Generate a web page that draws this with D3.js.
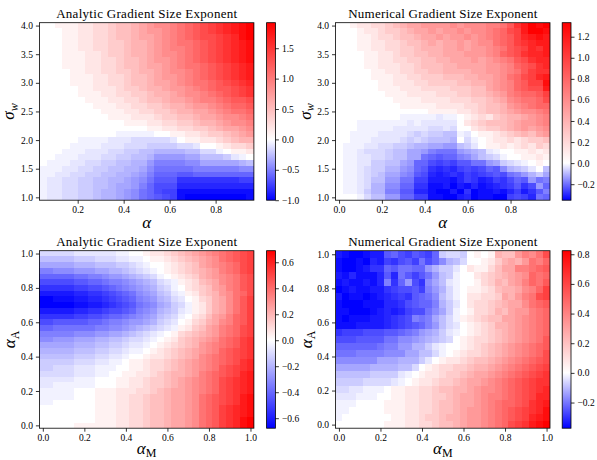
<!DOCTYPE html>
<html>
<head>
<meta charset="utf-8">
<script src="https://cdn.jsdelivr.net/npm/d3@7"></script>
<style>
  body { margin: 0; background: #fff; }
  svg { display: block; }
  text { font-family: "Liberation Serif", "DejaVu Serif", serif; fill: #000; }
</style>
</head>
<body>
<div id="fig"></div>
<script>
// grid coordinates of the cells
const alphaAnalytic = [0.050, 0.083, 0.117, 0.150, 0.183, 0.217, 0.250, 0.283, 0.317, 0.350, 0.383, 0.417, 0.450, 0.483,
                       0.517, 0.550, 0.583, 0.617, 0.650, 0.683, 0.717, 0.750, 0.783, 0.817, 0.850, 0.883, 0.917, 0.950];
const alphaNumerical = [0.000, 0.033, 0.067, 0.100, 0.133, 0.167, 0.200, 0.233, 0.267, 0.300, 0.333, 0.367, 0.400, 0.433, 0.467,
                        0.500, 0.533, 0.567, 0.600, 0.633, 0.667, 0.700, 0.733, 0.767, 0.800, 0.833, 0.867, 0.900, 0.933, 0.967];
const sigmaW = [1.0, 1.1, 1.2, 1.3, 1.4, 1.5, 1.6, 1.7, 1.8, 1.9, 2.0, 2.1, 2.2, 2.3, 2.4, 2.5,
                2.6, 2.7, 2.8, 2.9, 3.0, 3.1, 3.2, 3.3, 3.4, 3.5, 3.6, 3.7, 3.8, 3.9, 4.0];
const alphaMix = [0.000, 0.033, 0.067, 0.100, 0.133, 0.167, 0.200, 0.233, 0.267, 0.300, 0.333, 0.367, 0.400, 0.433, 0.467, 0.500,
                  0.533, 0.567, 0.600, 0.633, 0.667, 0.700, 0.733, 0.767, 0.800, 0.833, 0.867, 0.900, 0.933, 0.967, 1.000];
const alphaACoarse = [0.000, 0.042, 0.083, 0.125, 0.167, 0.208, 0.250, 0.292, 0.333, 0.375, 0.417, 0.458, 0.500,
                      0.542, 0.583, 0.625, 0.667, 0.708, 0.750, 0.792, 0.833, 0.875, 0.917, 0.958, 1.000];

// cell levels, one char per cell, top row first:
// '0' = 0, 'a'..'t' = +5%..+100% of vmax, 'A'..'T' = -5%..-100% of |vmin|
const analyticSigmaRows = [
  "00aaabbccdeefghiijklmnopqrst",
  "000aabbccdeefghhijklmnopqrst",
  "000aabbccdeefgghijklmnnopqst",
  "000aabbccddeffghijkklmnopqrs",
  "000aabbccddeffghijjklmnopqrs",
  "000aaabbcddeffghiijklmnopqrs",
  "000aaabbccdeefghhijklmnopqrs",
  "000aaabbccdeefgghijkklmnopqr",
  "0000aabbccddeffghiijklmnopqr",
  "0000aaabbccdeefghhijklmnopqr",
  "0000aaabbccdeefgghijkklmnopq",
  "00000aabbbcddeffghhijklmmnop",
  "00000aaabbccddeffghiijklmnop",
  "000000aaabbccdeefgghijjklmmn",
  "0000000aaabbccddeffghhijkllm",
  "00000000aaabbccddeffgghijkkl",
  "000000000aaabbbcddeefgghiijk",
  "00000000000aaabbccddeffghiij",
  "00000000000000aabbccddefgghi",
  "0000000000AAAAA00aabbcddefgh",
  "00000AAAABBBCCCCCB0aabbcdeff",
  "0000AAAABBBCCCDDDDCCB00abccd",
  "000AAABBBCCDDEEFFFFEECCA0aab",
  "00AAABBBCCDDEEFHHHHGGEEEDBA0",
  "0AAABBCCDDEEFFHJJJJIIGGGGGFE",
  "AAABBCCDDEEFFGIKKKKKJJJJJJII",
  "AABBCCDDEEFFGHJLLLMMLLLLLLLL",
  "ABBCCDDEEFFGHIKMMMPPPPPPPPOO",
  "ABBCCDDEEFGGHJLNNNQQQQQQQQQQ",
  "ABBCCDDEFFGHIKLNOOSSSSSSSSSS",
  "ABBCCDDEFFGHIKLMNOSTTTTTTTTS"
];
const numericalSigmaRows = [
  "00abbccdefgghhhhihiiijjkmprtst",
  "000abbcddefgghghhihiijklnortts",
  "000aabccdeefgghghhihijklmoqrsr",
  "000aabbccdeefgfgghghiiklmopqrr",
  "000aabbccddefffgghghhijkmnoqpr",
  "0000aabbcddeeffggghhhijlmnpqqr",
  "0000aabbccddeeffggghghijkmnpqq",
  "0000aabbbccdeeeffgggghhijlmnpq",
  "00000aabbccddeeffffgghhijkmopp",
  "00000aaabbccdddeeeffgghiklnoqr",
  "000000aabbbccddddeeffghijlmoos",
  "000000aaabbbccccdddeeghijlmnnr",
  "0000000aaabbbbcccddeefghjkllmo",
  "00000000aaaabbbbcccddefgijkkln",
  "000000000aaaaabbbbccdeefhijkll",
  "0000000000000aaaabbcdeefghiijk",
  "000000000AAAAABAA0abcbdeffghij",
  "000AAAAAAABABBBBB0bcdeeefghhij",
  "000AAAAABBBBBCCBC00bcddefghghi",
  "00AAAABBBBCDCDDEEAB0aabcdefegh",
  "00AAABBBBCDCDEEEF0CA0abbcbcdde",
  "0AAABBCCDDEFFGGHHEDB0aababcbdc",
  "0AABCCCDEEGGHJKKKHGFEBA00aabab",
  "0AABBCCDEEGGKLMLLJIGEDCA00aaba",
  "0AABBDDEEGHLLNONOMMKKHGDCBA0a0",
  "0AABCDDFFHILMPQPQONONLMIFEDB0E",
  "0AABCDEGGIJMNQRQPQOPONMNKJHFDG",
  "0AABCEEHHKKOORRRSQOPRQOPNLMHKJ",
  "0AABCFFIILLPPSSRTRSQSRQPOMPNHL",
  "0AABDFFJJMMQQSTTRTPTSSRSQORPMJ",
  "000ACEEHHLLOOSSTTRQTSSTTONOQKL"
];
const analyticMixRows = [
  "CCCCCBBBBBBAA00abbcdefghijklmno",
  "EEEEEDDDCCCBBAA0aabcdefghiklmno",
  "GGGGGFFFEEEDDCBA00abcdeghijklno",
  "JJIIIHHHGGFFEDCBA0abcdefghjklno",
  "LLLLLKKJJIHHGFEDCA0abcdfghijkmn",
  "NNNNNMMLLKJJIHGFECBAabcefgijkmn",
  "PPPPPOONNMLKJIHGFDCA0bcdeghjkmn",
  "RRRRRQQPPONMLKIHGEDBAabdefhikln",
  "TTSSSRRQQPONMLJIHFECB0acdfgikmo",
  "TTTTTSSRRQPONMKJIGFDCAabdfgikmo",
  "RRRRRQQPPONNMLJIHFEDBAabdfgikmo",
  "PPPPPOONNMLLKJIHGEDCA0bceghjlmo",
  "NNMMMMMLLKJJIHHGFDCB0acdfgijlmo",
  "LLKKKKKKJJIIHGFEDCBAabdeghjklno",
  "JJJJJIIIHHGGFEDCBA0acdefghjklno",
  "IIHHHGGGFFEEDCCBA0abdefghiklmop",
  "GGGGGFFFEEDDCBBA0abcdefhijklmop",
  "FFFFFEEEDDCCBAA0abcdefghijlmnop",
  "EEEEEDDDCCBBA00abbcdefgijklmnop",
  "DDDDDCCCBBAA0aabccdefghijklmnpq",
  "DDCCCBBBAAA00aabccdefghijkmnopq",
  "CCCCCBBBAA00aabbcdeffghjklmnoqr",
  "BBBBBAAA000aabbcddefghijklnopqr",
  "BBAAAAAA000aabbcddefghijklnopqr",
  "AAAAA000aaabbbccdefgghijklnopqr",
  "AAAAA000aaabbccdeefgghiklmnoprs",
  "AA000000aaabbccdeefgghiklmnoprs",
  "00000000aaabbccdeefgghiklmopqrs",
  "00000000aaabbccdeefgghiklmopqrs",
  "00000000aaabbccdeefgghiklmopqst",
  "00000aaaaaabbccdeefgghiklmopqst"
];
const numericalMixRows = [
  "RSTTSRRMLNOMNOLDCCD0a0afeehjikn",
  "STTSTQROPNMOKNLIFEC00abdfgfhkjl",
  "STTSRPPLMKKLLHFDDB0baaceggjjklm",
  "RSQSSSQMQKMOMKHEDA00bcdefghilkl",
  "SRSSRSQJPLHNPIGEBA00acdfeghjlkm",
  "TSRSSRRPONNMOJHFCA0aabceffgijlo",
  "RTSSTSRQPOPMLKIECA0bbccdgfhjkno",
  "STTTSSSQQPNMLLJFDB0bccdefggiklm",
  "SSTTTSRQRQONNKIGDA0accdfeghhjkl",
  "STSSSRRQPONJKJGECAabcdeegghijkl",
  "SSSRRRRQPONMLJHECB0abcdffghijkl",
  "POOONNNMMLKJHGFDBA0abcdefghijkl",
  "NNNMMMMKKIIHGFEDC0abccdefghijkm",
  "LLLLLLKJJHHFFDBA00abcdefghijklm",
  "KKKJJJJIIIGGEECA0abccdefghijkln",
  "IIIIIIGGGFFFDB0abbcdeefghijklmn",
  "GGGGGFFFFEEC0abccddeffghijklmno",
  "EEEEEDDDDBA0abbcddefgghijklmnop",
  "DDDDCCCCBA0abbcddefgghijklmnopp",
  "CCBBAAA0aabbccdeeffghiijklmnopq",
  "BBBAAA00aabbccddefgghijjklmnoqq",
  "AAA0000aaabbccdeefgghijkllmnpqr",
  "AA00000aaabbccdeefghhijklmnopqs",
  "A0000000aabbcddeffghhijklmnoqrs",
  "0000000aaabbccdeefghhijklnoprst"
];

// colour limits and tick labels
const analyticSigmaRange = [-1.0, 1.92];
const numericalSigmaRange = [-0.352, 1.333];
const analyticMixRange = [-0.677, 0.689];
const numericalMixRange = [-0.373, 0.824];

const sigmaTicks = [1.0, 1.5, 2.0, 2.5, 3.0, 3.5, 4.0];
const alphaTicksAnalytic = [0.2, 0.4, 0.6, 0.8];
const alphaTicksNumerical = [0.0, 0.2, 0.4, 0.6, 0.8];
const unitTicks = [0.0, 0.2, 0.4, 0.6, 0.8, 1.0];
const cbTicksA = [-1.0, -0.5, 0.0, 0.5, 1.0, 1.5];
const cbTicksB = [-0.2, 0.0, 0.2, 0.4, 0.6, 0.8, 1.0, 1.2];
const cbTicksC = [-0.6, -0.4, -0.2, 0.0, 0.2, 0.4, 0.6];
const cbTicksD = [-0.2, 0.0, 0.2, 0.4, 0.6, 0.8];

const W = 597, H = 460;
const svg = d3.select('#fig').append('svg').attr('width', W).attr('height', H);
const defs = svg.append('defs');
const fmt = d3.format('.1f');

function level(c, vmin, vmax) {
  if (c === '0') return 0;
  if (c >= 'a') return (c.charCodeAt(0) - 96) * 0.05 * vmax;
  return (c.charCodeAt(0) - 64) * 0.05 * vmin;
}

function edges(c) {
  let n = c.length, e = [c[0] - (c[1] - c[0]) / 2];
  for (let i = 0; i < n - 1; i++) e.push((c[i] + c[i + 1]) / 2);
  e.push(c[n - 1] + (c[n - 1] - c[n - 2]) / 2);
  return e;
}

function styleAxis(sel) {
  sel.select('.domain').remove();
  sel.selectAll('.tick line').attr('stroke', '#000').attr('stroke-width', 0.8);
  sel.selectAll('.tick text').style('font-size', '9.5px').attr('fill', '#000');
}

function drawPanel(p, id) {
  let w = 214.5, h = 177.5;
  let g = svg.append('g').attr('transform', `translate(${p.left},${p.top})`);
  let xe = edges(p.x), ye = edges(p.y);
  let x = d3.scaleLinear().domain([xe[0], xe[xe.length - 1]]).range([0, w]);
  let y = d3.scaleLinear().domain([ye[0], ye[ye.length - 1]]).range([h, 0]);
  let color = d3.scaleLinear().domain([p.range[0], 0, p.range[1]]).range(['#0000ff', '#ffffff', '#ff0000']);

  let cells = [];
  p.rows.forEach((row, r) => {
    let yi = p.y.length - 1 - r;
    Array.from(row).forEach((c, xi) => {
      if (xi < p.x.length) cells.push({xi: xi, yi: yi, v: level(c, p.range[0], p.range[1])});
    });
  });

  g.append('g').selectAll('rect')
   .data(cells)
   .join('rect')
   .attr('x', d => x(xe[d.xi]))
   .attr('width', d => x(xe[d.xi + 1]) - x(xe[d.xi]))
   .attr('y', d => y(ye[d.yi + 1]))
   .attr('height', d => y(ye[d.yi]) - y(ye[d.yi + 1]))
   .attr('fill', d => color(d.v))
   .attr('shape-rendering', 'crispEdges');

  g.append('rect').attr('width', w).attr('height', h)
   .attr('fill', 'none').attr('stroke', '#000').attr('stroke-width', 0.8);

  g.append('g').attr('transform', `translate(0,${h})`)
   .call(d3.axisBottom(x).tickValues(p.xTicks).tickFormat(fmt).tickSize(3.5).tickPadding(3))
   .call(styleAxis);
  g.append('g')
   .call(d3.axisLeft(y).tickValues(p.yTicks).tickFormat(fmt).tickSize(3.5).tickPadding(3))
   .call(styleAxis);

  // title
  g.append('text').attr('x', w / 2).attr('y', -4.5)
   .attr('text-anchor', 'middle').style('font-size', '13px')
   .attr('textLength', p.titleLen).attr('lengthAdjust', 'spacing')
   .text(p.title);

  // x label
  let xl = g.append('text').attr('x', w / 2).attr('y', h + p.xly)
   .attr('text-anchor', 'middle').style('font-size', '17px');
  xl.append('tspan').style('font-style', 'italic').text('α');
  if (p.xSub) xl.append('tspan').attr('dy', 3).style('font-size', '12px').text(p.xSub);

  // y label
  let yl = g.append('text').attr('transform', `translate(${p.ylx},${h / 2}) rotate(-90)`)
   .attr('text-anchor', 'middle').style('font-size', '17px');
  yl.append('tspan').style('font-style', 'italic').text(p.yName);
  yl.append('tspan').attr('dy', 3.5).style('font-size', '12px')
    .style('font-style', p.ySubItalic ? 'italic' : 'normal').text(p.ySub);

  // colorbar
  let cb = svg.append('g').attr('transform', `translate(${p.cbLeft},${p.top})`);
  let cbw = 8.8;
  let grad = defs.append('linearGradient').attr('id', 'cb' + id)
   .attr('x1', 0).attr('y1', 0).attr('x2', 0).attr('y2', 1);
  grad.append('stop').attr('offset', 0).attr('stop-color', '#ff0000');
  grad.append('stop').attr('offset', p.range[1] / (p.range[1] - p.range[0])).attr('stop-color', '#ffffff');
  grad.append('stop').attr('offset', 1).attr('stop-color', '#0000ff');
  cb.append('rect').attr('width', cbw).attr('height', h).attr('fill', `url(#cb${id})`)
    .attr('stroke', '#000').attr('stroke-width', 0.8);
  let cbScale = d3.scaleLinear().domain(p.range).range([h, 0]);
  cb.append('g').attr('transform', `translate(${cbw},0)`)
    .call(d3.axisRight(cbScale).tickValues(p.cbTicks).tickFormat(fmt).tickSize(3.5).tickPadding(3))
    .call(styleAxis);
}

const panels = [
  {x: alphaAnalytic, y: sigmaW, rows: analyticSigmaRows, range: analyticSigmaRange,
   xTicks: alphaTicksAnalytic, yTicks: sigmaTicks, cbTicks: cbTicksA,
   title: 'Analytic Gradient Size Exponent', titleLen: 181,
   xSub: null, xly: 28, yName: 'σ', ySub: 'w', ySubItalic: true, ylx: -25,
   left: 39.4, top: 22.7, cbLeft: 266.6},
  {x: alphaNumerical, y: sigmaW, rows: numericalSigmaRows, range: numericalSigmaRange,
   xTicks: alphaTicksNumerical, yTicks: sigmaTicks, cbTicks: cbTicksB,
   title: 'Numerical Gradient Size Exponent', titleLen: 189,
   xSub: null, xly: 28, yName: 'σ', ySub: 'w', ySubItalic: true, ylx: -25,
   left: 335.5, top: 22.7, cbLeft: 562.2},
  {x: alphaMix, y: alphaMix, rows: analyticMixRows, range: analyticMixRange,
   xTicks: unitTicks, yTicks: unitTicks, cbTicks: cbTicksC,
   title: 'Analytic Gradient Size Exponent', titleLen: 181,
   xSub: 'M', xly: 25.5, yName: 'α', ySub: 'A', ySubItalic: false, ylx: -24,
   left: 39.4, top: 250.7, cbLeft: 266.6},
  {x: alphaMix, y: alphaACoarse, rows: numericalMixRows, range: numericalMixRange,
   xTicks: unitTicks, yTicks: unitTicks, cbTicks: cbTicksD,
   title: 'Numerical Gradient Size Exponent', titleLen: 189,
   xSub: 'M', xly: 25.5, yName: 'α', ySub: 'A', ySubItalic: false, ylx: -24,
   left: 335.5, top: 250.7, cbLeft: 562.2}
];

panels.forEach((p, i) => drawPanel(p, i));
</script>
</body>
</html>
